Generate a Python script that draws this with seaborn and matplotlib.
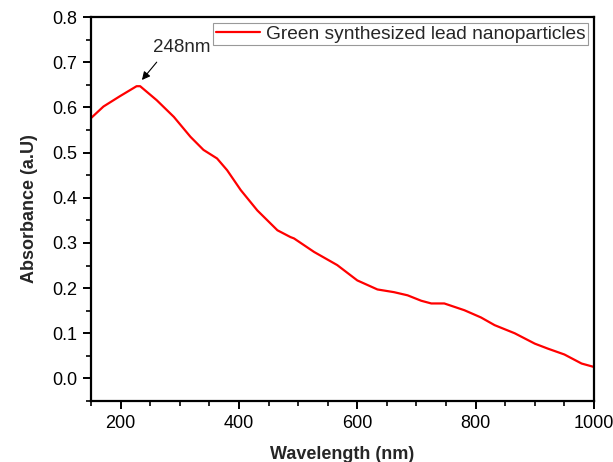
import numpy as np
import pandas as pd
import matplotlib
matplotlib.use("Agg")
import matplotlib.pyplot as plt
import seaborn as sns
from matplotlib.ticker import MultipleLocator

# UV-Vis spectrum
wavelength = [148, 171, 199, 227, 233, 261, 290, 318, 340, 363, 380, 403,
              431, 465, 487, 493, 527, 566, 600, 634, 662, 685, 708, 725,
              747, 781, 809, 832, 866, 900, 922, 950, 979, 1001]
absorbance = [0.574, 0.602, 0.625, 0.647, 0.647, 0.616, 0.579, 0.535, 0.506,
              0.487, 0.461, 0.417, 0.372, 0.328, 0.313, 0.310, 0.280, 0.251,
              0.217, 0.197, 0.191, 0.184, 0.172, 0.166, 0.166, 0.151, 0.135,
              0.118, 0.100, 0.077, 0.066, 0.053, 0.033, 0.025]
series_label = "Green synthesized lead nanoparticles"
peak_label = "248nm"

df = pd.DataFrame({"Wavelength": wavelength, "Absorbance": absorbance})

sns.set_style("ticks")
plt.rcParams["font.family"] = ["Liberation Sans", "DejaVu Sans"]

fig = plt.figure(figsize=(6.13, 4.62), dpi=100)
ax = fig.add_axes([0.1485, 0.132, 0.8205, 0.831])

sns.lineplot(data=df, x="Wavelength", y="Absorbance", ax=ax, color="#ff0000",
             lw=1.6, label=series_label, sort=False)

ax.set_xlim(150, 1000)
ax.set_ylim(-0.05, 0.8)
ax.xaxis.set_major_locator(MultipleLocator(200))
ax.xaxis.set_minor_locator(MultipleLocator(50))
ax.yaxis.set_major_locator(MultipleLocator(0.1))
ax.yaxis.set_minor_locator(MultipleLocator(0.05))
ax.yaxis.set_major_formatter(matplotlib.ticker.FormatStrFormatter("%.1f"))

ax.tick_params(which="major", direction="out", length=6, width=1.4,
               labelsize=13, colors="black", pad=4)
ax.tick_params(which="minor", direction="out", length=3.5, width=1.4)
for s in ax.spines.values():
    s.set_visible(True)
    s.set_linewidth(1.6)
    s.set_color("black")

ax.set_xlabel("Wavelength (nm)", fontsize=13, fontweight="bold", labelpad=10)
ax.set_ylabel("Absorbance (a.U)", fontsize=13, fontweight="bold", labelpad=10)

# peak annotation
ax.annotate("", xy=(233, 0.656), xytext=(264, 0.705),
            arrowprops=dict(arrowstyle="-|>", color="black", lw=0.8,
                            mutation_scale=12))
ax.text(255, 0.732, peak_label, fontsize=13.5, ha="left", va="center")

leg = ax.legend(loc="upper right", fontsize=13.8, fancybox=False,
                edgecolor="#999999", framealpha=1, borderpad=0.12,
                borderaxespad=0.3, handlelength=2.3, handletextpad=0.35)
leg.get_frame().set_linewidth(0.8)

fig.savefig("out.png", dpi=100)
